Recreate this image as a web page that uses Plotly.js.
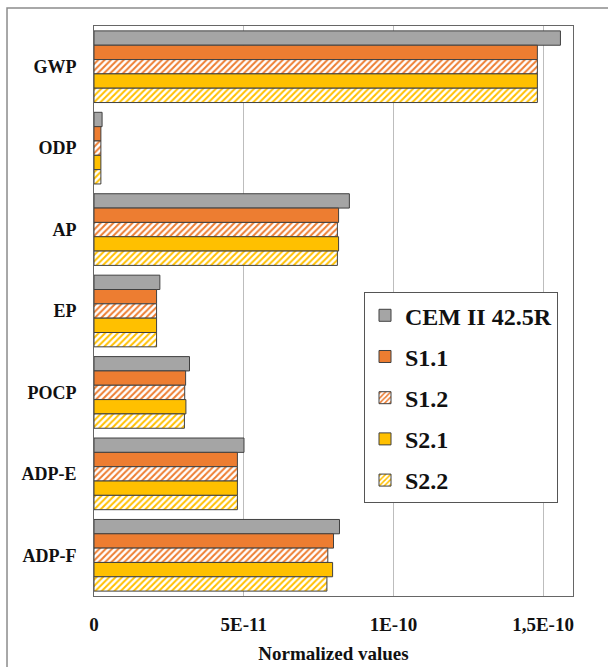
<!DOCTYPE html>
<html>
<head>
<meta charset="utf-8">
<script src="https://cdn.plot.ly/plotly-3.0.1.min.js"></script>
<style>
html,body{margin:0;padding:0;background:#fff;}
#chart{width:608px;height:667px;}
</style>
</head>
<body>
<div id="chart"></div>
<script>
// Categories (top to bottom)
const categories = ["GWP", "ODP", "AP", "EP", "POCP", "ADP-E", "ADP-F"];
// Series names
const seriesNames = ["CEM II 42.5R", "S1.1", "S1.2", "S2.1", "S2.2"];
// Values (normalized)
const cem  = [1.558e-10, 2.7e-12, 8.53e-11, 2.20e-11, 3.19e-11, 5.01e-11, 8.20e-11];
const s11  = [1.481e-10, 2.3e-12, 8.17e-11, 2.09e-11, 3.06e-11, 4.79e-11, 8.00e-11];
const s12  = [1.481e-10, 2.3e-12, 8.13e-11, 2.09e-11, 3.03e-11, 4.79e-11, 7.81e-11];
const s21  = [1.481e-10, 2.3e-12, 8.17e-11, 2.09e-11, 3.07e-11, 4.79e-11, 7.97e-11];
const s22  = [1.481e-10, 2.3e-12, 8.13e-11, 2.09e-11, 3.02e-11, 4.79e-11, 7.78e-11];
// X tick values/labels
const xTickVals = [0, 5e-11, 1e-10, 1.5e-10];
const xTickText = ["0", "5E-11", "1E-10", "1,5E-10"];

const outline = {color: "#404040", width: 1};
function solid(color) {
  return {color: color, line: outline};
}
function hatched(color) {
  return {color: "#ffffff", line: outline,
          pattern: {shape: "/", fgcolor: color, bgcolor: "#ffffff", size: 4.5, solidity: 0.45}};
}
const markers = [solid("#a5a5a5"), solid("#ed7d31"), hatched("#ed7d31"), solid("#ffc000"), hatched("#ffc000")];
const values = [cem, s11, s12, s21, s22];

const traces = values.map((v, i) => ({
  type: "bar",
  orientation: "h",
  name: seriesNames[i],
  legendgroup: "g" + i,
  y: categories,
  x: v,
  marker: markers[i],
  hoverinfo: "x+name"
}));

const serif = "Liberation Serif, Times New Roman, serif";
const layout = {
  width: 608, height: 667,
  margin: {l: 94, r: 35, t: 26, b: 71},
  paper_bgcolor: "#ffffff",
  plot_bgcolor: "#ffffff",
  font: {family: serif, size: 17, color: "#111111", weight: "bold"},
  barmode: "group",
  bargap: 0.12,
  bargroupgap: 0,
  showlegend: true,
  legend: {
    x: 0.5637, xanchor: "left",
    y: 0.533, yanchor: "top",
    bgcolor: "#ffffff",
    bordercolor: "#555555", borderwidth: 1,
    font: {family: serif, size: 24, color: "#111111", weight: "bold"},
    traceorder: "grouped",
    tracegroupgap: 7,
    itemwidth: 30
  },
  xaxis: {
    range: [0, 1.6e-10],
    tickvals: xTickVals,
    ticktext: xTickText,
    showgrid: true,
    gridcolor: "#bdbdbd",
    gridwidth: 1,
    zeroline: false,
    showline: true, mirror: true,
    linecolor: "#666666", linewidth: 1,
    ticks: "",
    ticklabelstandoff: 11,
    tickfont: {family: serif, size: 19, weight: "bold", color: "#111111"},
    title: {text: "Normalized values", font: {family: serif, size: 19, weight: "bold", color: "#111111"}, standoff: 12}
  },
  yaxis: {
    type: "category",
    autorange: "reversed",
    showgrid: false,
    zeroline: false,
    showline: true, mirror: true,
    linecolor: "#666666", linewidth: 1,
    ticks: "",
    ticklabelstandoff: 13,
    tickfont: {family: serif, size: 18, weight: "bold", color: "#111111"}
  },
  shapes: [{
    type: "rect", xref: "paper", yref: "paper",
    x0: -0.1816, x1: 1.3, y0: -0.5, y1: 1.0316,
    line: {color: "#8c8c8c", width: 1.5},
    fillcolor: "rgba(0,0,0,0)",
    layer: "below"
  }]
};

Plotly.newPlot("chart", traces, layout, {displayModeBar: false, staticPlot: true});
</script>
</body>
</html>
